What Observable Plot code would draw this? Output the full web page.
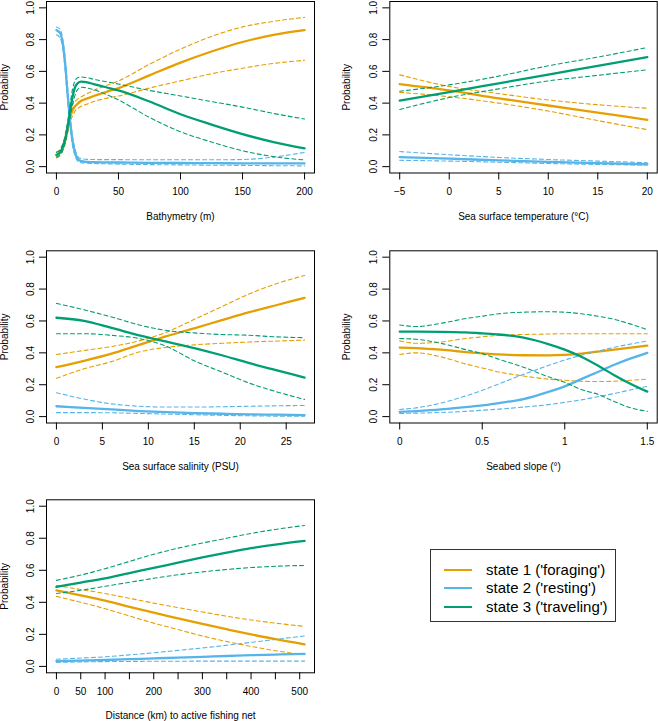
<!DOCTYPE html>
<html><head><meta charset="utf-8">
<script src="https://cdn.jsdelivr.net/npm/d3@7"></script>
<script src="https://cdn.jsdelivr.net/npm/@observablehq/plot@0.6"></script>
<style>
body{margin:0;background:#fff}
#root{position:relative;width:658px;height:721px;overflow:hidden;background:#fff;font-family:"Liberation Sans",Arial,Helvetica,sans-serif}
.panel{position:absolute}
#legend{position:absolute;left:430px;top:549px;width:184px;height:71px;border:1px solid #333;background:#fff}
#legend .row{position:absolute;left:0;height:18px;font-size:15px;line-height:18px;white-space:nowrap}
#legend .sw{position:absolute;left:13px;top:8px;width:28px;height:0;border-top:2px solid}
#legend .tx{position:absolute;left:55px;top:0}
</style>
</head><body><div id="root"></div>
<script>
// ---------- data ----------
const stateNames = ["state 1 ('foraging')", "state 2 ('resting')", "state 3 ('traveling')"];
const stateColors = ["#E69F00", "#56B4E9", "#009E73"];
const probTicks = [0, 0.2, 0.4, 0.6, 0.8, 1.0];

// Panel 1: Bathymetry (m)
const bathyX = [0, 3, 5, 7, 9, 11, 13, 15, 17, 20, 25, 30, 40, 50, 75, 100, 125, 150, 175, 200];
const bathyS1 = [0.07, 0.09, 0.12, 0.17, 0.24, 0.31, 0.355, 0.38, 0.395, 0.415, 0.43, 0.445, 0.47, 0.495, 0.575, 0.655, 0.725, 0.785, 0.83, 0.86];
const bathyS1Hi = [0.09, 0.11, 0.14, 0.2, 0.27, 0.34, 0.39, 0.41, 0.425, 0.44, 0.46, 0.48, 0.51, 0.54, 0.645, 0.74, 0.82, 0.88, 0.915, 0.94];
const bathyS1Lo = [0.055, 0.07, 0.1, 0.14, 0.21, 0.28, 0.32, 0.35, 0.365, 0.38, 0.395, 0.41, 0.43, 0.445, 0.495, 0.54, 0.585, 0.62, 0.65, 0.67];
const bathyS2 = [0.86, 0.84, 0.78, 0.65, 0.46, 0.29, 0.16, 0.09, 0.05, 0.035, 0.03, 0.028, 0.027, 0.026, 0.024, 0.023, 0.022, 0.021, 0.02, 0.02];
const bathyS2Hi = [0.88, 0.865, 0.81, 0.69, 0.5, 0.32, 0.19, 0.11, 0.065, 0.05, 0.046, 0.045, 0.044, 0.044, 0.043, 0.043, 0.043, 0.045, 0.06, 0.09];
const bathyS2Lo = [0.83, 0.81, 0.75, 0.61, 0.42, 0.26, 0.13, 0.07, 0.035, 0.025, 0.022, 0.02, 0.018, 0.016, 0.013, 0.011, 0.009, 0.008, 0.006, 0.005];
const bathyS3 = [0.075, 0.09, 0.12, 0.17, 0.25, 0.35, 0.44, 0.5, 0.525, 0.535, 0.53, 0.52, 0.5, 0.48, 0.41, 0.33, 0.265, 0.205, 0.155, 0.115];
const bathyS3Hi = [0.09, 0.105, 0.14, 0.19, 0.28, 0.39, 0.49, 0.54, 0.56, 0.565, 0.56, 0.55, 0.535, 0.52, 0.48, 0.445, 0.41, 0.375, 0.335, 0.3];
const bathyS3Lo = [0.06, 0.075, 0.1, 0.15, 0.22, 0.31, 0.39, 0.45, 0.485, 0.5, 0.495, 0.485, 0.455, 0.42, 0.31, 0.22, 0.155, 0.1, 0.063, 0.042];
const bathyTicks = [0, 50, 100, 150, 200];

// Panel 2: Sea surface temperature (°C)
const sstX = [-5, 0, 5, 10, 15, 20];
const sstS1 = [0.52, 0.48, 0.43, 0.385, 0.34, 0.295];
const sstS1Hi = [0.578, 0.505, 0.46, 0.42, 0.39, 0.368];
const sstS1Lo = [0.468, 0.44, 0.4, 0.35, 0.29, 0.233];
const sstS2 = [0.06, 0.05, 0.04, 0.03, 0.022, 0.015];
const sstS2Hi = [0.095, 0.075, 0.058, 0.045, 0.035, 0.025];
const sstS2Lo = [0.04, 0.035, 0.028, 0.02, 0.014, 0.01];
const sstS3 = [0.416, 0.47, 0.525, 0.58, 0.635, 0.69];
const sstS3Hi = [0.475, 0.515, 0.57, 0.635, 0.69, 0.75];
const sstS3Lo = [0.36, 0.435, 0.49, 0.54, 0.575, 0.61];
const sstTicks = [-5, 0, 5, 10, 15, 20];

// Panel 3: Sea surface salinity (PSU)
const salX = [0, 3, 6, 9, 12, 15, 18, 21, 24, 27];
const salS1 = [0.31, 0.35, 0.395, 0.45, 0.505, 0.554, 0.605, 0.655, 0.7, 0.745];
const salS1Hi = [0.39, 0.415, 0.44, 0.475, 0.53, 0.61, 0.69, 0.77, 0.835, 0.885];
const salS1Lo = [0.24, 0.3, 0.345, 0.405, 0.435, 0.45, 0.46, 0.468, 0.474, 0.48];
const salS2 = [0.065, 0.055, 0.045, 0.035, 0.028, 0.022, 0.018, 0.014, 0.012, 0.01];
const salS2Hi = [0.15, 0.11, 0.08, 0.065, 0.06, 0.06, 0.062, 0.065, 0.068, 0.07];
const salS2Lo = [0.025, 0.025, 0.024, 0.02, 0.016, 0.012, 0.008, 0.005, 0.003, 0.002];
const salS3 = [0.62, 0.6, 0.556, 0.51, 0.47, 0.43, 0.385, 0.335, 0.29, 0.245];
const salS3Hi = [0.71, 0.67, 0.625, 0.575, 0.54, 0.525, 0.515, 0.51, 0.5, 0.495];
const salS3Lo = [0.52, 0.52, 0.51, 0.49, 0.44, 0.35, 0.28, 0.21, 0.155, 0.108];
const salTicks = [0, 5, 10, 15, 20, 25];

// Panel 4: Seabed slope (°)
const slopeX = [0, 0.1, 0.25, 0.4, 0.5, 0.6, 0.75, 0.9, 1.0, 1.1, 1.2, 1.3, 1.4, 1.5];
const slopeS1 = [0.433, 0.43, 0.42, 0.405, 0.397, 0.39, 0.385, 0.384, 0.387, 0.395, 0.408, 0.42, 0.433, 0.445];
const slopeS1Hi = [0.475, 0.46, 0.468, 0.49, 0.5, 0.51, 0.515, 0.518, 0.52, 0.52, 0.52, 0.52, 0.52, 0.52];
const slopeS1Lo = [0.39, 0.4, 0.375, 0.33, 0.305, 0.28, 0.255, 0.235, 0.228, 0.222, 0.22, 0.222, 0.228, 0.235];
const slopeS2 = [0.03, 0.035, 0.045, 0.06, 0.07, 0.085, 0.11, 0.155, 0.19, 0.235, 0.28, 0.325, 0.365, 0.4];
const slopeS2Hi = [0.045, 0.055, 0.085, 0.13, 0.165, 0.205, 0.265, 0.32, 0.355, 0.385, 0.41, 0.435, 0.455, 0.475];
const slopeS2Lo = [0.02, 0.022, 0.026, 0.033, 0.04, 0.047, 0.06, 0.075, 0.09, 0.105, 0.125, 0.145, 0.168, 0.19];
const slopeS3 = [0.533, 0.533, 0.532, 0.528, 0.522, 0.515, 0.495, 0.455, 0.42, 0.375, 0.32, 0.26, 0.205, 0.157];
const slopeS3Hi = [0.575, 0.565, 0.585, 0.615, 0.63, 0.645, 0.655, 0.658, 0.655, 0.645, 0.63, 0.61, 0.58, 0.545];
const slopeS3Lo = [0.49, 0.485, 0.46, 0.42, 0.395, 0.36, 0.31, 0.25, 0.215, 0.17, 0.14, 0.095, 0.055, 0.033];
const slopeTicks = [0, 0.5, 1, 1.5];

// Panel 5: Distance (km) to active fishing net
const distX = [0, 50, 100, 150, 200, 250, 300, 350, 400, 450, 510];
const distS1 = [0.475, 0.443, 0.41, 0.372, 0.335, 0.3, 0.265, 0.232, 0.2, 0.17, 0.138];
const distS1Hi = [0.505, 0.48, 0.455, 0.425, 0.395, 0.367, 0.34, 0.313, 0.29, 0.27, 0.25];
const distS1Lo = [0.437, 0.4, 0.36, 0.315, 0.27, 0.23, 0.19, 0.155, 0.125, 0.098, 0.073];
const distS2 = [0.033, 0.036, 0.04, 0.045, 0.05, 0.055, 0.06, 0.065, 0.07, 0.074, 0.078];
const distS2Hi = [0.045, 0.052, 0.06, 0.072, 0.085, 0.1, 0.115, 0.132, 0.15, 0.168, 0.19];
const distS2Lo = [0.025, 0.028, 0.03, 0.031, 0.032, 0.032, 0.033, 0.033, 0.033, 0.033, 0.033];
const distS3 = [0.496, 0.523, 0.55, 0.583, 0.615, 0.648, 0.68, 0.71, 0.738, 0.76, 0.783];
const distS3Hi = [0.537, 0.57, 0.61, 0.655, 0.7, 0.738, 0.77, 0.8, 0.83, 0.855, 0.88];
const distS3Lo = [0.455, 0.475, 0.5, 0.525, 0.55, 0.572, 0.59, 0.605, 0.617, 0.625, 0.63];
const distTicks = [0, 50, 100, 150, 200, 250, 300, 350, 400, 450, 500];
const distTickLabels = [0, 50, 100, 200, 300, 400, 500];

// ---------- drawing ----------
const root = document.getElementById("root");
const FONT = "'Liberation Sans', Arial, Helvetica, sans-serif";

function rows(xs, states) {
  const out = [];
  states.forEach(([mean, lo, hi], s) => {
    [["lo", lo], ["hi", hi], ["mean", mean]].forEach(([kind, ys]) => {
      xs.forEach((x, i) => out.push({x, y: ys[i], state: s, kind, key: s + kind}));
    });
  });
  return out;
}

function padDomain(xs) {
  const [a, b] = d3.extent(xs);
  const p = (b - a) * 0.04;
  return [a - p, b + p];
}

function fmt(d) {
  return d < 0 ? "\u2212" + (-d) : String(d);
}

function panel({xs, states, ticks, tickLabels, label, left, top, width, height, mt, mr, mb, ml, yLabelOffset}) {
  const data = rows(xs, states);
  const marks = [Plot.frame({stroke: "#000", strokeWidth: 1})];
  states.forEach((_, s) => {
    marks.push(Plot.line(data.filter(d => d.state === s && d.kind !== "mean"), {
      x: "x", y: "y", z: "key", stroke: stateColors[s], strokeWidth: 1.1,
      strokeDasharray: "4,3", curve: "monotone-x"
    }));
    marks.push(Plot.line(data.filter(d => d.state === s && d.kind === "mean"), {
      x: "x", y: "y", stroke: stateColors[s], strokeWidth: 2.3, curve: "monotone-x"
    }));
  });
  marks.push(
    Plot.axisY({ticks: probTicks, tickFormat: d => d.toFixed(1), tickSize: 7, tickPadding: 5.5,
      tickRotate: -90, label: "Probability", labelAnchor: "center", labelArrow: "none", labelOffset: yLabelOffset}),
    Plot.axisX({ticks, tickFormat: d => (tickLabels ? (tickLabels.includes(d) ? fmt(d) : "") : fmt(d)),
      tickSize: 7, tickPadding: 8, label, labelAnchor: "center", labelArrow: "none", labelOffset: 46.5})
  );
  const chart = Plot.plot({
    width, height, marginTop: mt, marginRight: mr, marginBottom: mb, marginLeft: ml,
    style: {fontFamily: FONT, fontSize: "10px", color: "#000", background: "transparent", overflow: "visible"},
    x: {domain: padDomain(xs)},
    y: {domain: [-0.04, 1.04]},
    marks
  });
  chart.classList.add("panel");
  chart.style.left = left + "px";
  chart.style.top = top + "px";
  root.appendChild(chart);
}

panel({xs: bathyX, states: [[bathyS1, bathyS1Lo, bathyS1Hi], [bathyS2, bathyS2Lo, bathyS2Hi], [bathyS3, bathyS3Lo, bathyS3Hi]],
  ticks: bathyTicks, label: "Bathymetry (m)", left: 0, top: 0, width: 330, height: 240, mt: 1, mr: 16, mb: 67.5, ml: 46, yLabelOffset: 45.5});
panel({xs: sstX, states: [[sstS1, sstS1Lo, sstS1Hi], [sstS2, sstS2Lo, sstS2Hi], [sstS3, sstS3Lo, sstS3Hi]],
  ticks: sstTicks, label: "Sea surface temperature (\u00B0C)", left: 330, top: 0, width: 328, height: 240, mt: 1, mr: 1.3, mb: 67.5, ml: 59.3, yLabelOffset: 47});
panel({xs: salX, states: [[salS1, salS1Lo, salS1Hi], [salS2, salS2Lo, salS2Hi], [salS3, salS3Lo, salS3Hi]],
  ticks: salTicks, label: "Sea surface salinity (PSU)", left: 0, top: 240, width: 330, height: 240, mt: 10.3, mr: 16, mb: 57.5, ml: 46, yLabelOffset: 45.5});
panel({xs: slopeX, states: [[slopeS1, slopeS1Lo, slopeS1Hi], [slopeS2, slopeS2Lo, slopeS2Hi], [slopeS3, slopeS3Lo, slopeS3Hi]],
  ticks: slopeTicks, label: "Seabed slope (\u00B0)", left: 330, top: 240, width: 328, height: 240, mt: 10.3, mr: 1.3, mb: 57.5, ml: 59.3, yLabelOffset: 47});
panel({xs: distX, states: [[distS1, distS1Lo, distS1Hi], [distS2, distS2Lo, distS2Hi], [distS3, distS3Lo, distS3Hi]],
  ticks: distTicks, tickLabels: distTickLabels, label: "Distance (km) to active fishing net", left: 0, top: 480, width: 330, height: 241, mt: 19.3, mr: 16, mb: 48.7, ml: 46, yLabelOffset: 45.5});

// legend
const legend = document.createElement("div");
legend.id = "legend";
stateNames.forEach((name, i) => {
  const row = document.createElement("div");
  row.className = "row";
  row.style.top = (10.5 + i * 18.6) + "px";
  row.style.width = "100%";
  const sw = document.createElement("div");
  sw.className = "sw";
  sw.style.borderTopColor = stateColors[i];
  const tx = document.createElement("div");
  tx.className = "tx";
  tx.textContent = name;
  row.appendChild(sw); row.appendChild(tx);
  legend.appendChild(row);
});
root.appendChild(legend);
</script>
</body></html>
